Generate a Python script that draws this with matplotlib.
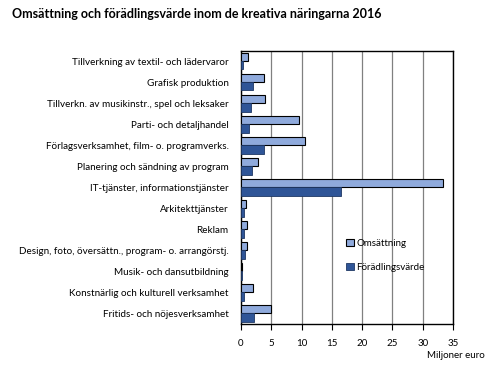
import numpy as np
import matplotlib.pyplot as plt

# Data (miljoner euro)
kategorier = [
    'Tillverkning av textil- och lädervaror',
    'Grafisk produktion',
    'Tillverkn. av musikinstr., spel och leksaker',
    'Parti- och detaljhandel',
    'Förlagsverksamhet, film- o. programverks.',
    'Planering och sändning av program',
    'IT-tjänster, informationstjänster',
    'Arkitekttjänster',
    'Reklam',
    'Design, foto, översättn., program- o. arrangörstj.',
    'Musik- och dansutbildning',
    'Konstnärlig och kulturell verksamhet',
    'Fritids- och nöjesverksamhet',
]
omsattning = [1.2, 3.85, 4.0, 9.6, 10.6, 2.85, 33.3, 0.9, 1.05, 1.05, 0.2, 1.9, 5.0]
foradling = [0.4, 1.9, 1.7, 1.4, 3.85, 1.85, 16.5, 0.55, 0.55, 0.7, 0.1, 0.55, 2.2]
xticks = [0, 5, 10, 15, 20, 25, 30, 35]

plt.rcParams['font.family'] = ['Lato', 'DejaVu Sans']

fig = plt.figure(figsize=(4.99, 3.70), dpi=100)
ax = fig.add_axes([241 / 499, 1 - 324 / 370, 212 / 499, 273.5 / 370])

y = np.arange(len(kategorier))
h = 0.4
ax.barh(y - h / 2, omsattning, height=h, color='#8FAADC', edgecolor='black',
        linewidth=0.8, label='Omsättning', zorder=3)
ax.barh(y + h / 2, foradling, height=h, color='#2F5597', edgecolor='#1F3864',
        linewidth=0.6, label='Förädlingsvärde', zorder=3)

ax.set_ylim(len(kategorier) - 0.5, -0.5)
ax.set_xlim(0, 35)
ax.set_yticks(y)
ax.set_yticklabels(kategorier, fontsize=7.15)
ax.tick_params(axis='y', length=0, pad=9)
ax.set_xticks(xticks)
ax.set_xticklabels([str(t) for t in xticks], fontsize=7)
ax.tick_params(axis='x', length=4, width=0.8, direction='out', pad=7)

ax.grid(axis='x', color='#808080', linewidth=0.9, zorder=0)
for s in ax.spines.values():
    s.set_linewidth(1.0)
    s.set_color('black')

fig.text(485 / 499, 1 - 355 / 370, 'Miljoner euro', fontsize=7,
         ha='right', va='center')
fig.text(12 / 499, 1 - 14 / 370,
         'Omsättning och förädlingsvärde inom de kreativa näringarna 2016',
         fontsize=9, fontweight='bold', ha='left', va='center')

leg = ax.legend(loc='upper left', bbox_to_anchor=(341 / 499, 1 - 234 / 370),
                bbox_transform=fig.transFigure, frameon=False, fontsize=7,
                handlelength=0.8, handleheight=0.8, handletextpad=0.3,
                labelspacing=1.55, borderpad=0)

fig.savefig('out.png', dpi=100)
